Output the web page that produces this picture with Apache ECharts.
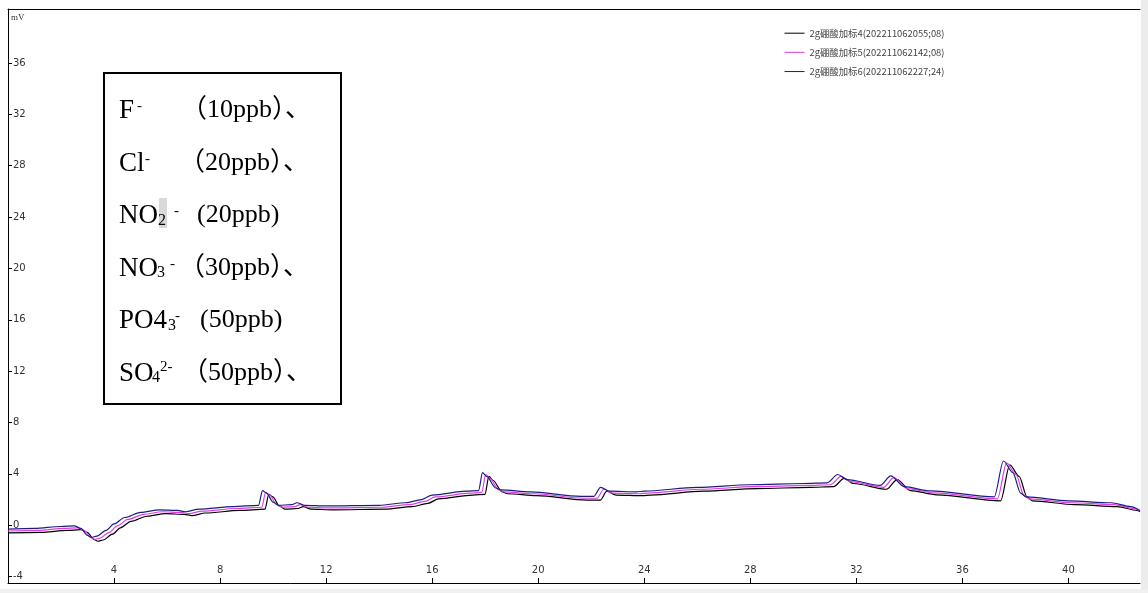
<!DOCTYPE html>
<html>
<head>
<meta charset="utf-8">
<title>2g硼酸加标</title>
<script src="https://cdn.jsdelivr.net/npm/echarts@6/dist/echarts.min.js"></script>
<style>
  html, body { margin: 0; padding: 0; background: #fff; }
  #main { width: 1148px; height: 593px; }
</style>
</head>
<body>
<div id="main"></div>
<script>
// 图例名称
var seriesNames = [
    '2g硼酸加标4(202211062055;08)',
    '2g硼酸加标5(202211062142;08)',
    '2g硼酸加标6(202211062227;24)'
];
// 坐标刻度
var xTicks = [4, 8, 12, 16, 20, 24, 28, 32, 36, 40];
var yTicks = [-4, 0, 4, 8, 12, 16, 20, 24, 28, 32, 36];

// 三条谱图 [min, mV]
var trace4 = [
    [0, -0.6], [1.24, -0.55], [2.24, -0.4], [2.74, -0.35], [2.99, -0.55], [3.24, -1.1], [3.39, -1.25],
    [3.59, -1.15], [3.94, -0.7], [4.24, -0.2], [4.64, 0.3], [5.24, 0.7], [5.94, 0.9], [6.64, 0.85],
    [6.94, 0.75], [7.44, 0.95], [8.74, 1.15], [9.69, 1.25], [9.84, 2.4], [9.99, 2.2], [10.24, 1.5],
    [10.44, 1.25], [10.94, 1.3], [11.14, 1.45], [11.44, 1.25], [12.24, 1.2], [14.24, 1.25], [15.24, 1.45],
    [15.84, 1.7], [16.24, 2.05], [17.54, 2.35], [17.99, 2.4], [18.14, 3.8], [18.29, 3.5], [18.64, 2.6],
    [18.84, 2.45], [19.94, 2.3], [21.84, 1.95], [22.34, 1.95], [22.59, 2.65], [22.94, 2.35], [23.94, 2.3],
    [24.24, 2.35], [26.24, 2.65], [28.24, 2.85], [30.24, 2.95], [31.14, 3.0], [31.54, 3.65], [31.89, 3.25],
    [33.14, 2.8], [33.54, 3.55], [34.04, 2.7], [35.04, 2.37], [37.44, 1.9], [37.79, 4.7], [38.14, 3.8],
    [38.44, 2.2], [38.64, 1.9], [40.24, 1.6], [41.84, 1.45], [42.59, 1.15], [42.7, 1.05]
];
var trace5 = [
    [0, -0.45], [1.12, -0.4], [2.12, -0.25], [2.62, -0.2], [2.87, -0.4], [3.12, -0.95], [3.27, -1.1],
    [3.47, -1.0], [3.82, -0.55], [4.12, -0.05], [4.52, 0.45], [5.12, 0.85], [5.82, 1.05], [6.52, 1.0],
    [6.82, 0.9], [7.32, 1.1], [8.62, 1.3], [9.57, 1.4], [9.72, 2.55], [9.87, 2.35], [10.12, 1.65],
    [10.32, 1.4], [10.82, 1.45], [11.02, 1.6], [11.32, 1.4], [12.12, 1.35], [14.12, 1.4], [15.12, 1.6],
    [15.72, 1.85], [16.12, 2.2], [17.42, 2.5], [17.87, 2.55], [18.02, 3.95], [18.17, 3.65], [18.52, 2.75],
    [18.72, 2.6], [19.82, 2.45], [21.72, 2.1], [22.22, 2.1], [22.47, 2.8], [22.82, 2.5], [23.82, 2.45],
    [24.12, 2.5], [26.12, 2.8], [28.12, 3.0], [30.12, 3.1], [31.02, 3.15], [31.42, 3.8], [31.77, 3.4],
    [33.02, 2.95], [33.42, 3.7], [33.92, 2.85], [34.92, 2.52], [37.32, 2.05], [37.67, 4.85], [38.02, 3.95],
    [38.32, 2.35], [38.52, 2.05], [40.12, 1.75], [41.72, 1.6], [42.47, 1.3], [42.7, 1.1]
];
var trace6 = [
    [0, -0.3], [1.0, -0.25], [2.0, -0.1], [2.5, -0.05], [2.75, -0.25], [3.0, -0.8], [3.15, -0.95],
    [3.35, -0.85], [3.7, -0.4], [4.0, 0.1], [4.4, 0.6], [5.0, 1.0], [5.7, 1.2], [6.4, 1.15],
    [6.7, 1.05], [7.2, 1.25], [8.5, 1.45], [9.45, 1.55], [9.6, 2.7], [9.75, 2.5], [10.0, 1.8],
    [10.2, 1.55], [10.7, 1.6], [10.9, 1.75], [11.2, 1.55], [12.0, 1.5], [14.0, 1.55], [15.0, 1.75],
    [15.6, 2.0], [16.0, 2.35], [17.3, 2.65], [17.75, 2.7], [17.9, 4.1], [18.05, 3.8], [18.4, 2.9],
    [18.6, 2.75], [19.7, 2.6], [21.6, 2.25], [22.1, 2.25], [22.35, 2.95], [22.7, 2.65], [23.7, 2.6],
    [24.0, 2.65], [26.0, 2.95], [28.0, 3.15], [30.0, 3.25], [30.9, 3.3], [31.3, 3.95], [31.65, 3.55],
    [32.9, 3.1], [33.3, 3.85], [33.8, 3.0], [34.8, 2.67], [37.2, 2.2], [37.55, 5.0], [37.9, 4.1],
    [38.2, 2.5], [38.4, 2.2], [40.0, 1.9], [41.6, 1.75], [42.35, 1.45], [42.7, 1.15]
];

var chart = echarts.init(document.getElementById('main'));

// 方框里的离子标注，一段一段摆
var SERIF = '"Liberation Serif", "Times New Roman", serif';
var CJK = '"Liberation Serif", "Noto Sans CJK SC", serif';
function piece(str, x, y, size, font) {
    return {
        type: 'text', left: x, top: y, z: 20,
        style: { text: str, fill: '#000', font: size + 'px ' + (font || SERIF) }
    };
}
var rowTop = [97.5, 150, 202.5, 255, 307.5, 360];
var boxText = [
    // F -  （10ppb）、
    piece('F', 119, rowTop[0], 27), piece('-', 137, rowTop[0] + 1.5, 15),
    piece('（10ppb）、', 181, rowTop[0], 26, CJK),
    // Cl-  （20ppb）、
    piece('Cl', 119, rowTop[1], 27), piece('-', 145, rowTop[1] + 1.5, 15),
    piece('（20ppb）、', 179, rowTop[1], 26, CJK),
    // NO2 -  (20ppb)
    { type: 'rect', left: 159, top: 198, z: 15, shape: { width: 8, height: 30 }, style: { fill: '#d9d9d9' } },
    piece('NO', 119, rowTop[2], 27), piece('2', 158, rowTop[2] + 10, 16),
    piece('-', 174, rowTop[2] + 1.5, 15), piece('(20ppb)', 197, rowTop[2], 26),
    // NO3-  （30ppb）、
    piece('NO', 119, rowTop[3], 27), piece('3', 157, rowTop[3] + 10, 16),
    piece('-', 170, rowTop[3] + 1.5, 15), piece('（30ppb）、', 179, rowTop[3], 26, CJK),
    // PO43-  (50ppb)
    piece('PO4', 119, rowTop[4], 27), piece('3', 168, rowTop[4] + 10, 16),
    piece('-', 175, rowTop[4] + 1.5, 15), piece('(50ppb)', 200, rowTop[4], 26),
    // SO42-  （50ppb）、
    piece('SO', 119, rowTop[5], 27), piece('4', 152, rowTop[5] + 10, 16),
    piece('2-', 160, rowTop[5], 15), piece('（50ppb）、', 182, rowTop[5], 26, CJK)
];

var colors = ['#000000', '#dd40dd', '#1c1c86'];
var traces = [trace4, trace5, trace6];
var series = [];
for (var i = 0; i < traces.length; i++) {
    series.push({
        name: seriesNames[i],
        type: 'line',
        data: traces[i],
        symbol: 'none',
        smooth: 0.3,
        smoothMonotone: 'x',
        lineStyle: { color: colors[i], width: 1.2 },
        itemStyle: { color: colors[i] },
        z: 2 + i
    });
}

var option = {
    backgroundColor: '#fff',
    animation: false,
    color: colors,
    grid: { left: 8, right: 8, top: 9, bottom: 10 },
    legend: {
        type: 'plain',
        orient: 'vertical',
        left: 784,
        top: 28.5,
        padding: 0,
        itemWidth: 20,
        itemHeight: 10,
        itemGap: 9.8,
        itemStyle: { opacity: 0 },
        lineStyle: { width: 1 },
        data: seriesNames,
        textStyle: { fontSize: 9.4, color: '#444', fontFamily: '"Noto Sans CJK SC", sans-serif' }
    },
    xAxis: [{
        type: 'value',
        min: 0,
        max: 42.7,
        axisLine: { show: true, onZero: false, lineStyle: { color: '#000', width: 1 } },
        axisTick: { show: true, inside: true, length: 5, lineStyle: { color: '#000' }, customValues: xTicks },
        axisLabel: { inside: true, margin: 8, fontSize: 10, color: '#333', fontFamily: '"DejaVu Sans", sans-serif', customValues: xTicks },
        splitLine: { show: false }
    }, {
        type: 'value',
        position: 'top',
        min: 0,
        max: 42.7,
        axisLine: { show: true, onZero: false, lineStyle: { color: '#000', width: 1 } },
        axisTick: { show: false },
        axisLabel: { show: false },
        splitLine: { show: false }
    }],
    yAxis: {
        type: 'value',
        min: -4.5,
        max: 40.2,
        axisLine: { show: true, onZero: false, lineStyle: { color: '#000', width: 1 } },
        axisTick: { show: true, inside: true, length: 4, lineStyle: { color: '#000' }, customValues: yTicks },
        axisLabel: { inside: true, margin: 5, fontSize: 10, color: '#333', fontFamily: '"DejaVu Sans", sans-serif', customValues: yTicks },
        splitLine: { show: false }
    },
    graphic: [
        // 右边、下边的灰条
        { type: 'rect', right: 0, top: 0, shape: { width: 7, height: 593 }, style: { fill: '#ececec' }, z: 30 },
        { type: 'rect', left: 0, bottom: 0, shape: { width: 1148, height: 4 }, style: { fill: '#f0f0f0' }, z: 30 },
        { type: 'text', left: 11, top: 13, z: 20, style: { text: 'mV', fill: '#333', font: '9px "Liberation Serif", serif' } },
        {
            type: 'rect', left: 103, top: 72, z: 10,
            shape: { x: 0, y: 0, width: 237, height: 331 },
            style: { fill: '#fff', stroke: '#000', lineWidth: 2 }
        }
    ].concat(boxText),
    series: series
};

if (option && typeof option === "object") {
    chart.setOption(option, true);
}
</script>
</body>
</html>
